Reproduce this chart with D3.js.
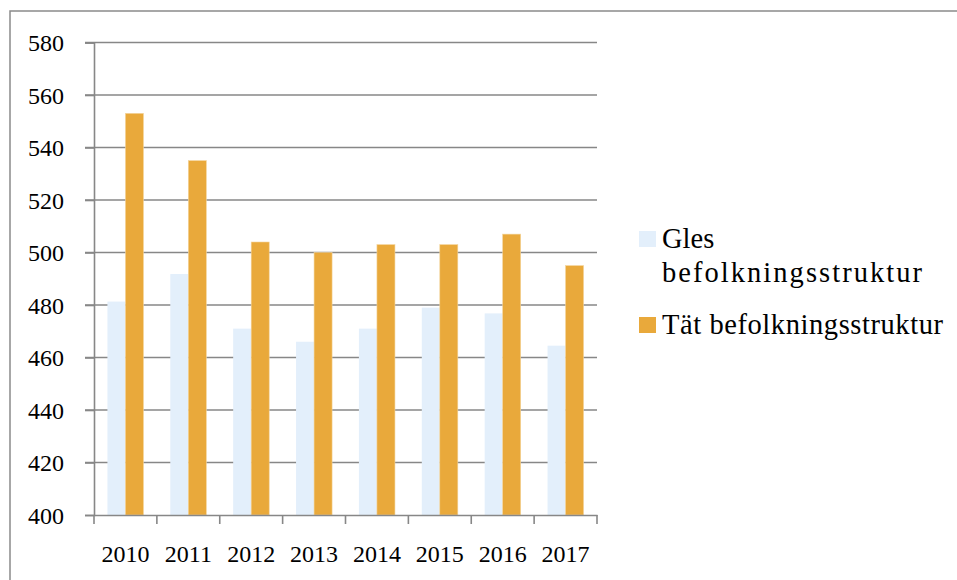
<!DOCTYPE html>
<html><head><meta charset="utf-8">
<script src="https://cdn.jsdelivr.net/npm/d3@7"></script>
<style>
html,body{margin:0;padding:0;background:#fff;}
</style></head>
<body>
<svg id="chart" width="957" height="580"></svg>
<script>
const years = ["2010","2011","2012","2013","2014","2015","2016","2017"];
const gles = [481.3, 491.8, 471, 466, 471, 479, 476.8, 464.5];
const tat = [553, 535, 504, 500, 503, 503, 507, 495];
const legendLines = [["Gles", "befolkningsstruktur"], ["Tät befolkningsstruktur"]];
const yTicks = [400,420,440,460,480,500,520,540,560,580];
const colors = ["#e3effb", "#e9a93b"];
const FONT = "'Liberation Serif'";

const svg = d3.select("#chart");
const plotLeft = 94, plotRight = 597, plotTop = 42.5, plotBottom = 515;

// outer frame
svg.append("rect").attr("x",10).attr("y",11).attr("width",980).attr("height",600)
  .attr("fill","none").attr("stroke","#8a8a8a").attr("stroke-width",1.5);

const y = d3.scaleLinear().domain([400,580]).range([plotBottom, plotTop]);
const xAxisScale = d3.scaleBand().domain(years).range([plotLeft, plotRight]).padding(0);
const x0 = d3.scaleBand().domain(years).range([plotLeft, plotRight]).paddingInner(0.427).paddingOuter(0.2135);
const x1 = d3.scaleBand().domain([0,1]).range([0, x0.bandwidth()]);

// gridlines
svg.append("g").selectAll("line").data(yTicks.filter(d=>d>400)).join("line")
  .attr("x1", plotLeft-9).attr("x2", plotRight).attr("y1", d=>y(d)).attr("y2", d=>y(d))
  .attr("stroke","#878787").attr("stroke-width",1.6);

// bars
const groups = svg.append("g").selectAll("g").data(years).join("g")
  .attr("transform", d=>`translate(${x0(d)},0)`);
groups.append("rect").attr("x", x1(0)).attr("width", x1.bandwidth())
  .attr("y", (d,i)=>y(gles[i])).attr("height",(d,i)=>plotBottom - y(gles[i]))
  .attr("fill", colors[0]);
groups.append("rect").attr("x", x1(1)).attr("width", x1.bandwidth())
  .attr("y", (d,i)=>y(tat[i])).attr("height",(d,i)=>plotBottom - y(tat[i]))
  .attr("fill", colors[1]).attr("stroke","#f3d49c").attr("stroke-width",0.6);

// y axis
const yAxis = svg.append("g").attr("transform",`translate(${plotLeft},0)`)
  .call(d3.axisLeft(y).tickValues(yTicks).tickSize(9).tickPadding(21).tickFormat(d3.format("d")));
yAxis.attr("font-family", null).attr("font-size", null);
yAxis.select(".domain").attr("stroke","#878787").attr("stroke-width",1.6);
yAxis.selectAll(".tick line").attr("stroke","#878787").attr("stroke-width",1.6);
yAxis.selectAll(".tick text").style("font-family", FONT).style("font-size","24px").attr("fill","#000").attr("dy","0.35em");

// x axis
const xAxis = svg.append("g").attr("transform",`translate(0,${plotBottom})`)
  .call(d3.axisBottom(xAxisScale).tickSize(0).tickPadding(30));
xAxis.attr("font-family", null).attr("font-size", null);
xAxis.select(".domain").attr("stroke","#878787").attr("stroke-width",1.6);
xAxis.selectAll(".tick text").style("font-family", FONT).style("font-size","24px").attr("fill","#000");
const bounds = years.map(d=>xAxisScale(d)).concat([plotRight]);
xAxis.append("g").selectAll("line").data(bounds).join("line")
  .attr("x1", d=>d).attr("x2", d=>d).attr("y1",0).attr("y2",9)
  .attr("stroke","#878787").attr("stroke-width",1.6);

// legend
const lg = svg.append("g");
lg.append("rect").attr("x",639).attr("y",231).attr("width",17).attr("height",16).attr("fill",colors[0]);
lg.append("rect").attr("x",639).attr("y",317).attr("width",17).attr("height",16).attr("fill",colors[1]);
const legendText = [
  {t: legendLines[0][0], y: 248, len: null},
  {t: legendLines[0][1], y: 282, len: 260},
  {t: legendLines[1][0], y: 334, len: 281}
];
lg.selectAll("text").data(legendText).join("text")
  .attr("x", 662).attr("y", d=>d.y)
  .attr("textLength", d=>d.len).attr("lengthAdjust", d=>d.len ? "spacing" : null)
  .style("font-family", FONT).style("font-size","28.5px").attr("fill","#000")
  .text(d=>d.t);
</script>
</body></html>
